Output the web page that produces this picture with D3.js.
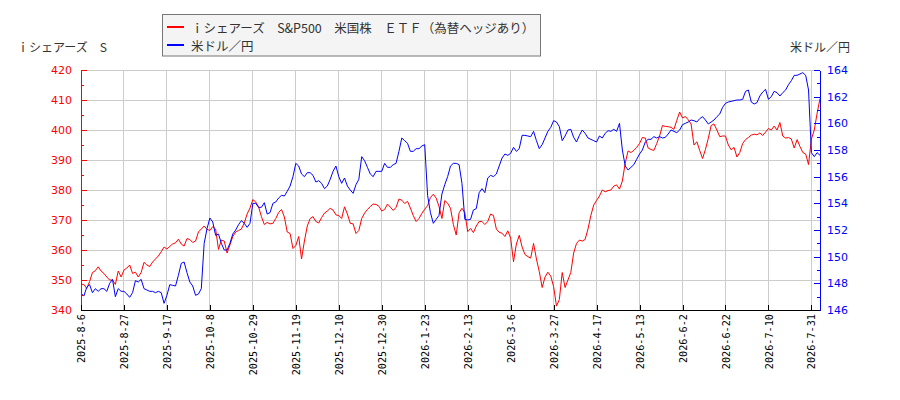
<!DOCTYPE html>
<html>
<head>
<meta charset="utf-8">
<script src="https://cdn.jsdelivr.net/npm/d3@7"></script>
<style>
  body {margin: 0; background: #fff;}
</style>
</head>
<body>
<div id="chart"></div>
<script>
var etfName = "ｉシェアーズ　S&P500　米国株　ＥＴＦ（為替ヘッジあり）",
    fxName = "米ドル／円",
    leftTitle = "ｉシェアーズ　S",
    rightTitle = "米ドル／円";

// one label every 15 trading days, starting at the first point
var tickLabels = ["2025-8-6","2025-8-27","2025-9-17","2025-10-8","2025-10-29","2025-11-19",
    "2025-12-10","2025-12-30","2026-1-23","2026-2-13","2026-3-6","2026-3-27",
    "2026-4-17","2026-5-13","2026-6-2","2026-6-22","2026-7-10","2026-7-31"];

var etfValues = [
  348.6,348.5,347.2,349.5,352.5,353.1,354.4,353.0,352.2,351.0,
  350.0,350.0,348.5,353.0,351.0,353.3,354.0,355.0,352.2,352.6,
  351.0,352.5,355.9,355.0,354.5,356.0,357.0,358.0,359.4,361.0,
  360.3,361.2,362.0,362.4,363.6,362.0,361.3,363.8,363.5,362.5,
  363.0,366.0,367.0,368.0,366.9,366.5,367.8,367.0,360.2,363.3,
  363.0,359.0,361.7,364.5,366.0,366.5,367.0,369.0,372.0,374.0,
  376.8,376.0,374.4,371.1,368.5,369.2,368.7,368.9,370.5,372.5,
  373.5,371.0,366.0,365.5,360.5,361.5,364.5,357.0,363.0,368.0,
  370.5,371.1,369.5,369.0,370.8,372.3,373.0,373.9,373.3,371.7,
  371.5,370.5,374.4,372.0,368.9,368.7,365.5,366.5,370.5,372.3,
  373.5,374.5,375.3,375.2,374.6,373.0,373.5,375.3,374.3,373.2,
  374.2,377.0,376.6,375.5,376.2,374.0,371.5,369.5,370.5,372.2,
  373.6,374.8,377.5,378.6,377.3,374.5,370.5,376.5,375.6,373.9,
  368.5,365.0,372.4,373.9,372.5,366.1,367.2,365.8,368.0,369.5,
  369.5,368.5,369.5,372.0,371.5,367.0,365.9,365.6,364.5,366.4,
  364.0,356.1,362.0,364.9,361.0,358.5,357.8,357.3,362.2,357.0,
  352.8,347.5,351.0,352.6,351.3,347.8,341.3,343.5,352.5,347.5,
  350.0,352.5,359.0,362.2,363.3,363.0,363.5,367.0,371.5,375.0,
  376.5,378.0,380.0,379.4,379.8,380.0,381.3,381.7,380.3,383.0,
  389.0,393.0,392.5,393.2,394.2,395.5,397.5,397.3,394.0,393.5,
  393.2,395.5,398.0,401.5,401.2,401.1,400.9,400.2,403.2,406.0,
  404.0,404.5,403.4,402.0,395.0,396.1,393.2,390.5,393.5,397.2,
  401.5,402.0,400.0,397.8,398.0,398.0,395.0,393.4,394.2,391.0,
  392.5,395.5,396.8,397.5,398.3,398.6,398.4,399.0,398.2,399.3,
  400.5,400.0,401.3,400.0,402.5,398.0,397.3,397.5,397.0,394.0,
  396.8,394.5,392.5,392.0,388.5,397.0,400.0,405.6,410.5
];

var usdJpyValues = [
  147.25,147.05,147.7,147.9,147.3,147.6,147.4,147.6,147.6,147.4,
  148.0,148.3,147.0,147.6,147.4,147.4,147.2,146.95,147.3,148.2,
  148.1,148.3,147.6,147.5,147.4,147.4,147.3,147.4,147.3,146.5,
  147.1,147.9,147.85,147.8,148.6,149.5,149.6,148.8,148.1,147.8,
  147.1,147.2,147.6,151.0,152.1,152.9,152.6,151.6,151.7,151.0,
  150.5,150.5,151.0,151.7,152.0,152.4,152.7,152.5,152.2,152.5,
  154.0,154.0,153.7,153.7,154.05,153.2,153.3,154.0,154.1,154.4,
  154.6,154.55,154.9,155.3,156.0,157.0,156.8,156.2,156.0,156.3,
  156.3,156.1,155.6,155.7,155.5,155.1,155.3,155.8,156.4,156.8,
  156.0,155.5,155.9,155.3,155.0,154.75,155.4,155.8,157.5,157.2,
  156.7,156.2,156.0,156.4,156.4,156.4,157.0,156.7,156.7,156.9,
  157.0,157.9,158.9,158.7,158.5,157.9,157.9,158.1,158.1,158.3,
  158.4,154.6,153.3,152.5,152.8,153.1,154.7,155.4,156.0,156.8,
  157.0,157.0,156.9,155.5,152.8,152.75,152.8,153.5,153.6,154.8,
  155.1,154.8,155.9,156.1,156.0,156.2,156.8,157.4,157.7,157.6,
  157.75,158.2,157.9,158.1,159.1,159.1,159.05,159.0,159.4,158.7,
  158.1,158.4,158.9,159.4,159.7,160.2,160.1,159.75,158.7,159.05,
  159.5,159.55,158.95,158.6,159.1,159.5,159.25,158.9,158.8,158.7,
  158.6,159.05,158.9,159.25,159.45,159.4,159.55,159.4,160.0,158.0,
  156.8,156.5,156.7,156.9,157.3,157.7,158.0,158.6,158.8,158.8,
  159.0,158.9,159.0,158.9,158.95,159.2,159.5,159.4,159.3,159.5,
  159.9,160.0,160.1,160.25,160.2,160.1,160.35,160.5,160.25,159.95,
  160.1,160.25,160.5,160.7,161.2,161.5,161.6,161.65,161.7,161.75,
  161.75,161.8,162.4,162.5,161.6,161.45,161.55,162.05,162.35,162.55,
  161.8,162.0,162.4,162.3,162.05,162.3,162.5,162.9,163.2,163.6,
  163.6,163.7,163.8,163.6,162.5,157.8,157.5,157.8,157.6
];

var tickStep = 15,
    leftDomain = [340, 420],
    rightDomain = [146, 164];

var margin = {top: 70, right: 80, bottom: 90, left: 81},
    width = 900,
    height = 400,
    plotRight = width - margin.right,
    plotBottom = height - margin.bottom;

var jpFont = "'Noto Sans CJK JP', sans-serif",
    numFont = "'DejaVu Sans', sans-serif",
    dateFont = "'DejaVu Sans Mono', monospace";

var x = d3.scaleLinear()
    .domain([0, etfValues.length - 1])
    .range([margin.left, plotRight]);

var yLeft = d3.scaleLinear()
    .domain(leftDomain)
    .range([plotBottom, margin.top]);

var yRight = d3.scaleLinear()
    .domain(rightDomain)
    .range([plotBottom, margin.top]);

var svg = d3.select("#chart").append("svg")
    .attr("width", width)
    .attr("height", height);

var tickIndex = tickLabels.map(function(d, i) {return i * tickStep});

// grid
var grid = svg.append("g")
    .attr("stroke", "#cccccc")
    .attr("stroke-width", 1)
    .attr("shape-rendering", "crispEdges");

grid.selectAll("line.v")
    .data(tickIndex)
  .enter().append("line")
    .attr("class", "v")
    .attr("x1", function(d) {return x(d)})
    .attr("x2", function(d) {return x(d)})
    .attr("y1", margin.top)
    .attr("y2", plotBottom);

grid.selectAll("line.h")
    .data(d3.range(leftDomain[0], leftDomain[1] + 1, 10))
  .enter().append("line")
    .attr("class", "h")
    .attr("x1", margin.left)
    .attr("x2", plotRight)
    .attr("y1", function(d) {return yLeft(d)})
    .attr("y2", function(d) {return yLeft(d)});

// series
svg.append("path")
    .datum(etfValues)
    .attr("fill", "none")
    .attr("stroke", "#ff0000")
    .attr("stroke-width", 1)
    .attr("d", d3.line()
        .x(function(d, i) {return x(i)})
        .y(function(d) {return yLeft(d)}));

svg.append("path")
    .datum(usdJpyValues)
    .attr("fill", "none")
    .attr("stroke", "#0000ff")
    .attr("stroke-width", 1)
    .attr("d", d3.line()
        .x(function(d, i) {return x(i)})
        .y(function(d) {return yRight(d)}));

// left axis (ticks point inward)
var leftAxis = d3.axisRight(yLeft)
    .tickValues(d3.range(leftDomain[0], leftDomain[1] + 1, 5))
    .tickSize(0)
    .tickFormat("");

var gLeft = svg.append("g")
    .attr("transform", "translate(" + margin.left + ",0)")
    .call(leftAxis);
gLeft.select(".domain").attr("stroke", "#ff0000").attr("shape-rendering", "crispEdges");
gLeft.selectAll(".tick line")
    .attr("stroke", "#ff0000")
    .attr("shape-rendering", "crispEdges")
    .attr("x2", function(d) {return d % 10 === 0 ? 6 : 3});
gLeft.selectAll(".tick text")
    .text(function(d) {return d % 10 === 0 ? d : ""})
    .attr("x", -9)
    .attr("text-anchor", "end")
    .attr("fill", "#ff0000")
    .attr("font-family", numFont)
    .attr("font-size", 11);

// right axis
var rightAxis = d3.axisLeft(yRight)
    .tickValues(d3.range(rightDomain[0], rightDomain[1] + 1, 1))
    .tickSize(0)
    .tickFormat("");

var gRight = svg.append("g")
    .attr("transform", "translate(" + plotRight + ",0)")
    .call(rightAxis);
gRight.select(".domain").attr("stroke", "#0000ff").attr("shape-rendering", "crispEdges");
gRight.selectAll(".tick line")
    .attr("stroke", "#0000ff")
    .attr("shape-rendering", "crispEdges")
    .attr("x2", function(d) {return d % 2 === 0 ? -6 : -3});
gRight.selectAll(".tick text")
    .text(function(d) {return d % 2 === 0 ? d : ""})
    .attr("x", 7)
    .attr("text-anchor", "start")
    .attr("fill", "#0000ff")
    .attr("font-family", numFont)
    .attr("font-size", 11);

// bottom axis
var bottomAxis = d3.axisTop(x)
    .tickValues(tickIndex)
    .tickSize(5)
    .tickFormat(function(d) {return tickLabels[d / tickStep]});

var gBottom = svg.append("g")
    .attr("transform", "translate(0," + plotBottom + ")")
    .call(bottomAxis);
gBottom.select(".domain")
    .attr("stroke", "#000")
    .attr("shape-rendering", "crispEdges")
    .attr("d", "M" + margin.left + ",0H" + plotRight);
gBottom.selectAll(".tick line").attr("stroke", "#000").attr("shape-rendering", "crispEdges");
gBottom.selectAll(".tick text")
    .attr("fill", "#000")
    .attr("font-family", dateFont)
    .attr("font-size", 10.2)
    .attr("text-anchor", "end")
    .attr("transform", "rotate(-90)")
    .attr("x", -4)
    .attr("y", 0)
    .attr("dy", "0.35em");

// axis titles
svg.append("text")
    .attr("x", 62)
    .attr("y", 46)
    .attr("text-anchor", "middle")
    .attr("dominant-baseline", "central")
    .attr("font-family", jpFont)
    .attr("font-size", 12)
    .attr("fill", "#333")
    .text(leftTitle);

svg.append("text")
    .attr("x", plotRight)
    .attr("y", 46)
    .attr("text-anchor", "middle")
    .attr("dominant-baseline", "central")
    .attr("font-family", jpFont)
    .attr("font-size", 12)
    .attr("fill", "#333")
    .text(rightTitle);

// legend
var legend = svg.append("g");

legend.append("rect")
    .attr("x", 162.5)
    .attr("y", 14.5)
    .attr("width", 378)
    .attr("height", 41.5)
    .attr("fill", "#f4f4f4")
    .attr("stroke", "#777");

var legendItems = [
  {name: etfName, color: "#ff0000", y: 27},
  {name: fxName, color: "#0000ff", y: 45}
];

var item = legend.selectAll("g.item")
    .data(legendItems)
  .enter().append("g")
    .attr("class", "item");

item.append("line")
    .attr("x1", 167)
    .attr("x2", 184)
    .attr("y1", function(d) {return d.y})
    .attr("y2", function(d) {return d.y})
    .attr("stroke", function(d) {return d.color})
    .attr("stroke-width", 2);

item.append("text")
    .attr("x", 191)
    .attr("y", function(d) {return d.y})
    .attr("dominant-baseline", "central")
    .attr("font-family", jpFont)
    .attr("font-size", 12.5)
    .attr("fill", "#333")
    .text(function(d) {return d.name});
</script>
</body>
</html>
